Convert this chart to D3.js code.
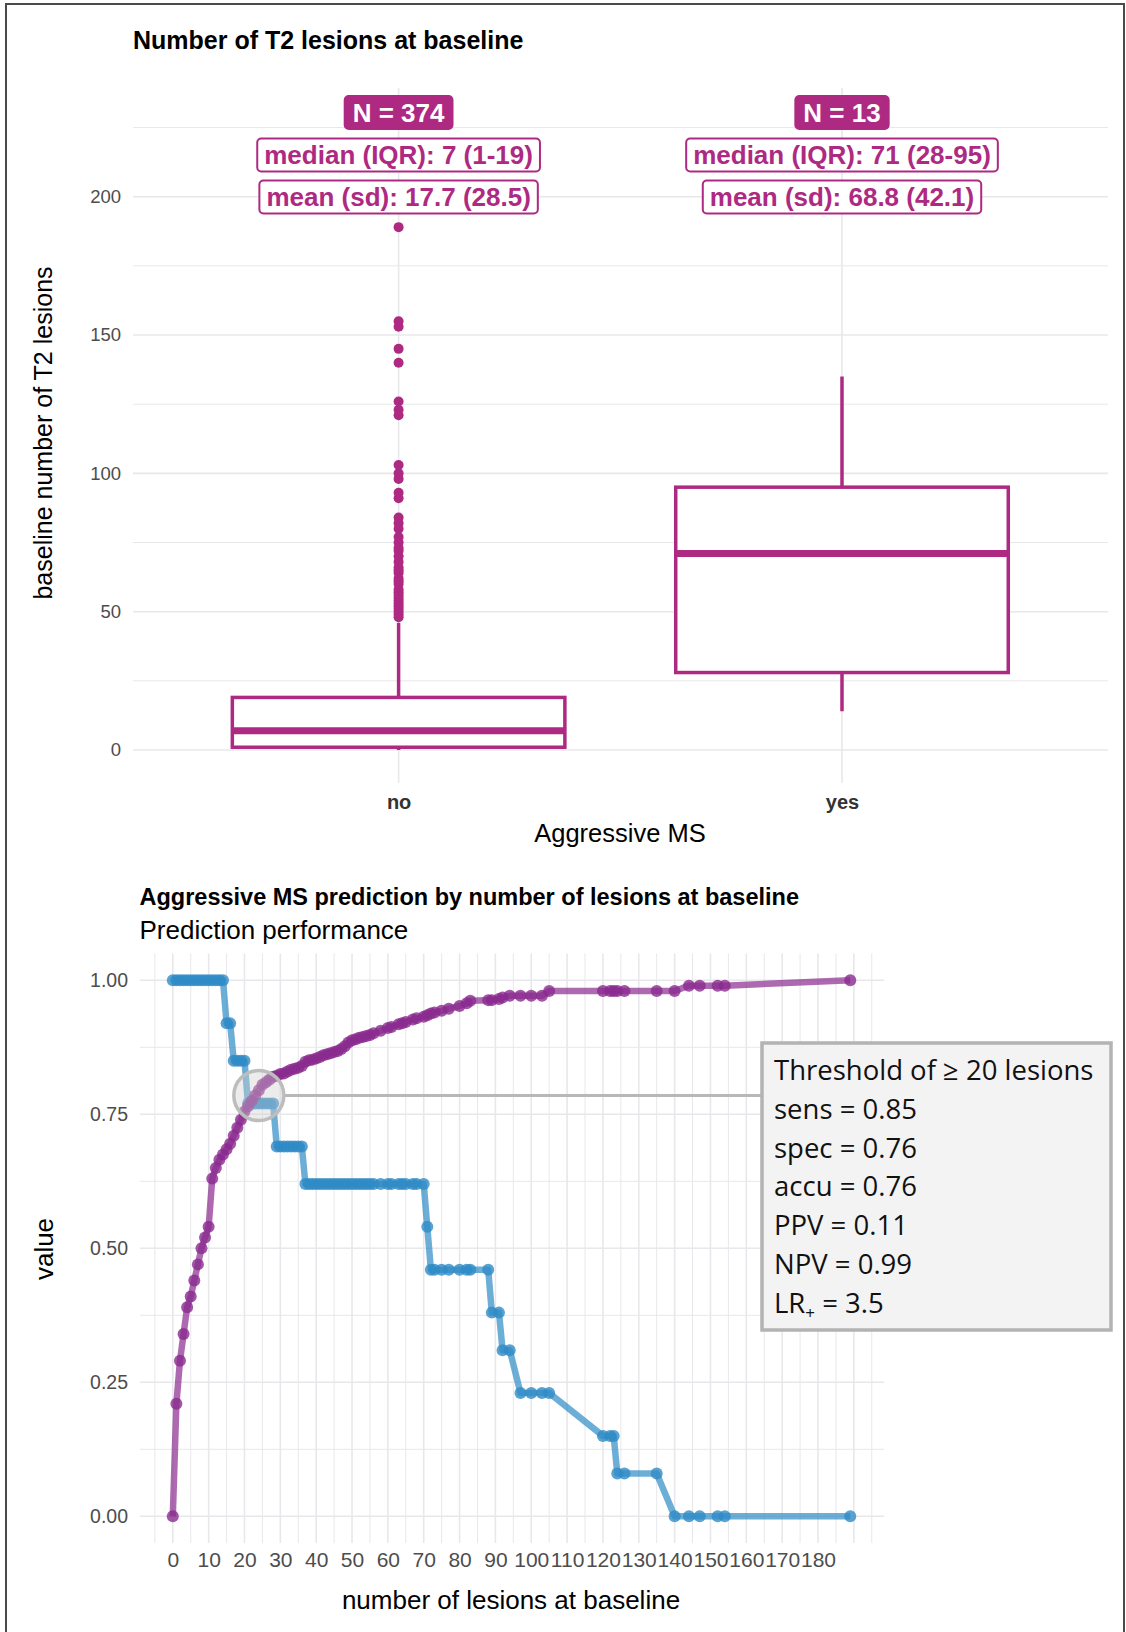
<!DOCTYPE html>
<html><head><meta charset="utf-8">
<script src="https://cdn.jsdelivr.net/npm/d3@7"></script>
<style>body{margin:0;background:#fff;} svg{display:block;}</style>
</head><body>
<svg id="chart" width="1126" height="1632"></svg>
<script>
// ---------- data: top boxplot ----------
const groups = ["no", "yes"];
const groupN = [374, 13];
const whiskerLow = [0, 14];
const boxQ1 = [1, 28];
const boxMedian = [7, 71];
const boxQ3 = [19, 95];
const whiskerHigh = [46, 135];
const outliersNo = [48, 49, 50, 51, 52, 53, 54, 55, 56, 57, 58, 60, 61, 62, 64, 65, 66, 68, 70, 72, 73, 75, 77, 80, 82, 84, 91, 93, 98, 100, 103, 121, 123, 126, 140, 145, 153, 155, 189];
const outliersYes = [];
const medianLabels = ["median (IQR): 7 (1-19)", "median (IQR): 71 (28-95)"];
const meanLabels = ["mean (sd): 17.7 (28.5)", "mean (sd): 68.8 (42.1)"];
const topYTicks = [0, 50, 100, 150, 200];
const topYMinor = [25, 75, 125, 175, 225];

// ---------- data: bottom prediction curves ----------
const thresholds = [0,1,2,3,4,5,6,7,8,9,10,11,12,13,14,15,16,17,18,19,20,21,22,23,24,25,26,27,28,29,30,31,32,33,34,35,36,37,38,39,40,41,42,43,44,45,46,47,48,49,50,51,52,53,54,55,56,58,60,61,63,64,65,67,68,70,71,72,73,75,77,80,82,83,88,89,91,92,94,97,100,103,105,120,122,123,124,126,135,140,144,147,152,154,189];
const sensitivity = [1,1,1,1,1,1,1,1,1,1,1,1,1,1,1,0.92,0.92,0.85,0.85,0.85,0.85,0.77,0.77,0.77,0.77,0.77,0.77,0.77,0.77,0.69,0.69,0.69,0.69,0.69,0.69,0.69,0.69,0.62,0.62,0.62,0.62,0.62,0.62,0.62,0.62,0.62,0.62,0.62,0.62,0.62,0.62,0.62,0.62,0.62,0.62,0.62,0.62,0.62,0.62,0.62,0.62,0.62,0.62,0.62,0.62,0.62,0.54,0.46,0.46,0.46,0.46,0.46,0.46,0.46,0.46,0.38,0.38,0.31,0.31,0.23,0.23,0.23,0.23,0.15,0.15,0.15,0.08,0.08,0.08,0,0,0,0,0,0];
const specificity = [0,0.21,0.29,0.34,0.39,0.41,0.44,0.47,0.50,0.52,0.54,0.63,0.65,0.665,0.675,0.685,0.695,0.71,0.725,0.74,0.755,0.765,0.775,0.785,0.795,0.805,0.81,0.815,0.82,0.822,0.825,0.826,0.83,0.833,0.835,0.837,0.84,0.848,0.851,0.852,0.854,0.857,0.86,0.862,0.864,0.866,0.868,0.872,0.877,0.884,0.888,0.89,0.893,0.894,0.896,0.898,0.901,0.906,0.911,0.913,0.918,0.92,0.922,0.927,0.929,0.932,0.935,0.938,0.94,0.943,0.947,0.952,0.957,0.962,0.963,0.963,0.965,0.968,0.971,0.971,0.971,0.971,0.98,0.98,0.98,0.98,0.98,0.98,0.98,0.98,0.99,0.99,0.99,0.99,1.0];
const bottomXTicks = [0,10,20,30,40,50,60,70,80,90,100,110,120,130,140,150,160,170,180];
const bottomXGrid = [-5,0,5,10,15,20,25,30,35,40,45,50,55,60,65,70,75,80,85,90,95,100,105,110,115,120,125,130,135,140,145,150,155,160,165,170,175,180,185,190,195];
const bottomYTicks = [0, 0.25, 0.5, 0.75, 1.0];
const bottomYMinor = [0.125, 0.375, 0.625, 0.875];
const annotLines = ["Threshold of \u2265 20 lesions", "sens = 0.85", "spec = 0.76", "accu = 0.76", "PPV = 0.11", "NPV = 0.99"];
const annotPoint = [24, 0.785];

// ---------- styles ----------
const MAG = "#ae2a82";
const BLUE = "#2f8bc6";
const PURP = "#8a2b8f";
const GRID = "#e8e8ec";
const SANS = "'Liberation Sans', Arial, Helvetica, sans-serif";
const ANN = "'Open Sans', 'Noto Sans', sans-serif";

const svg = d3.select("#chart");
svg.append("rect").attr("x",0).attr("y",0).attr("width",1126).attr("height",1632).attr("fill","#fff");
// outer frame
svg.append("path").attr("d","M6,1640 L6,4 L1124,4 L1124,1640").attr("fill","none").attr("stroke","#4a4a4a").attr("stroke-width",2);

// ================= TOP CHART =================
const tp = {l:133, r:1108, t:88, b:783};
const yTop = d3.scaleLinear().domain([0,200]).range([750,196.7]);
const xTop = d3.scalePoint().domain(groups).range([398.6, 842]);
const step = 443.4;
const boxW = 0.75*step;
const gTop = svg.append("g");

gTop.selectAll("line.minor").data(topYMinor).join("line")
  .attr("x1",tp.l).attr("x2",tp.r).attr("y1",d=>yTop(d)).attr("y2",d=>yTop(d))
  .attr("stroke",GRID).attr("stroke-width",1);
gTop.selectAll("line.major").data(topYTicks).join("line")
  .attr("x1",tp.l).attr("x2",tp.r).attr("y1",d=>yTop(d)).attr("y2",d=>yTop(d))
  .attr("stroke",GRID).attr("stroke-width",1.6);
gTop.selectAll("line.vmaj").data(groups).join("line")
  .attr("x1",d=>xTop(d)).attr("x2",d=>xTop(d)).attr("y1",tp.t).attr("y2",tp.b)
  .attr("stroke",GRID).attr("stroke-width",1.6);

// y axis
const yAxTop = gTop.append("g").attr("transform",`translate(${tp.l},0)`)
  .call(d3.axisLeft(yTop).tickValues(topYTicks).tickSize(0).tickPadding(12));
yAxTop.select(".domain").remove();
yAxTop.selectAll("text").attr("font-family",SANS).attr("font-size",18.5).attr("fill","#4d4d4d");

// x axis
const xAxTop = gTop.append("g").attr("transform",`translate(0,${tp.b})`)
  .call(d3.axisBottom(xTop).tickSize(0).tickPadding(12));
xAxTop.select(".domain").remove();
xAxTop.selectAll("text").attr("font-family",SANS).attr("font-size",20).attr("font-weight","bold").attr("fill","#333");

// boxes
groups.forEach((g,i)=>{
  const cx = xTop(g);
  gTop.append("line").attr("x1",cx).attr("x2",cx).attr("y1",yTop(boxQ3[i])).attr("y2",yTop(whiskerHigh[i]))
    .attr("stroke",MAG).attr("stroke-width",3.5);
  gTop.append("line").attr("x1",cx).attr("x2",cx).attr("y1",yTop(boxQ1[i])).attr("y2",yTop(whiskerLow[i]))
    .attr("stroke",MAG).attr("stroke-width",3.5);
  gTop.append("rect").attr("x",cx-boxW/2).attr("width",boxW)
    .attr("y",yTop(boxQ3[i])).attr("height",yTop(boxQ1[i])-yTop(boxQ3[i]))
    .attr("fill","#fff").attr("stroke",MAG).attr("stroke-width",3.5);
  gTop.append("line").attr("x1",cx-boxW/2).attr("x2",cx+boxW/2).attr("y1",yTop(boxMedian[i])).attr("y2",yTop(boxMedian[i]))
    .attr("stroke",MAG).attr("stroke-width",7);
  const outs = i===0 ? outliersNo : outliersYes;
  gTop.selectAll(null).data(outs).join("circle")
    .attr("cx",cx).attr("cy",d=>yTop(d)).attr("r",5).attr("fill",MAG);

  // labels
  const lbls = [
    {t:"N = "+groupN[i], cy:112.5, fill:MAG, col:"#fff", pad:8},
    {t:medianLabels[i], cy:155, fill:"#fff", col:MAG, pad:7},
    {t:meanLabels[i], cy:197, fill:"#fff", col:MAG, pad:7}
  ];
  lbls.forEach(L=>{
    const gl = gTop.append("g");
    const rect = gl.append("rect");
    const txt = gl.append("text").attr("x",cx).attr("y",L.cy+9).attr("text-anchor","middle")
      .attr("font-family",SANS).attr("font-weight","bold").attr("font-size",26).attr("fill",L.col).text(L.t);
    const w = txt.node().getComputedTextLength();
    rect.attr("x",cx-w/2-L.pad).attr("width",w+2*L.pad).attr("y",L.cy-16.5).attr("height",33)
      .attr("rx",4).attr("fill",L.fill).attr("stroke",MAG).attr("stroke-width",2);
  });
});

svg.append("text").attr("x",133).attr("y",49).attr("font-family",SANS).attr("font-weight","bold")
  .attr("font-size",25).attr("fill","#000").text("Number of T2 lesions at baseline");
svg.append("text").attr("transform","translate(52,433) rotate(-90)").attr("text-anchor","middle")
  .attr("font-family",SANS).attr("font-size",25).attr("fill","#000").text("baseline number of T2 lesions");
svg.append("text").attr("x",620).attr("y",842).attr("text-anchor","middle")
  .attr("font-family",SANS).attr("font-size",25.5).attr("fill","#000").text("Aggressive MS");

// ================= BOTTOM CHART =================
const bp = {l:140, r:884, t:953.5, b:1543};
const xB = d3.scaleLinear().domain([0,180]).range([172.8, 818]);
const yB = d3.scaleLinear().domain([0,1]).range([1516.3, 980.3]);
const gB = svg.append("g");

gB.selectAll("line.vg").data(bottomXGrid).join("line")
  .attr("x1",d=>xB(d)).attr("x2",d=>xB(d)).attr("y1",bp.t).attr("y2",bp.b)
  .attr("stroke",GRID).attr("stroke-width",d=>d%10===0?1.6:1);
gB.selectAll("line.hm").data(bottomYMinor).join("line")
  .attr("x1",bp.l).attr("x2",bp.r).attr("y1",d=>yB(d)).attr("y2",d=>yB(d))
  .attr("stroke",GRID).attr("stroke-width",1);
gB.selectAll("line.hM").data(bottomYTicks).join("line")
  .attr("x1",bp.l).attr("x2",bp.r).attr("y1",d=>yB(d)).attr("y2",d=>yB(d))
  .attr("stroke",GRID).attr("stroke-width",1.6);

const yAxB = gB.append("g").attr("transform",`translate(${bp.l},0)`)
  .call(d3.axisLeft(yB).tickValues(bottomYTicks).tickFormat(d3.format(".2f")).tickSize(0).tickPadding(12));
yAxB.select(".domain").remove();
yAxB.selectAll("text").attr("font-family",SANS).attr("font-size",19.5).attr("fill","#4d4d4d");

const xAxB = gB.append("g").attr("transform",`translate(0,${bp.b})`)
  .call(d3.axisBottom(xB).tickValues(bottomXTicks).tickFormat(d3.format("d")).tickSize(0).tickPadding(9));
xAxB.select(".domain").remove();
xAxB.selectAll("text").attr("font-family",SANS).attr("font-size",21).attr("fill","#4d4d4d");

const rows = thresholds.map((t,i)=>({t, sens:sensitivity[i], spec:specificity[i]}));
const lineSens = d3.line().x(d=>xB(d.t)).y(d=>yB(d.sens));
const lineSpec = d3.line().x(d=>xB(d.t)).y(d=>yB(d.spec));

gB.append("path").datum(rows).attr("d",lineSens).attr("fill","none")
  .attr("stroke",BLUE).attr("stroke-width",6.5).attr("stroke-opacity",0.7).attr("stroke-linejoin","round");
gB.selectAll("circle.s").data(rows).join("circle").attr("class","s")
  .attr("cx",d=>xB(d.t)).attr("cy",d=>yB(d.sens)).attr("r",6).attr("fill",BLUE).attr("fill-opacity",0.8);
gB.append("path").datum(rows).attr("d",lineSpec).attr("fill","none")
  .attr("stroke",PURP).attr("stroke-width",6.5).attr("stroke-opacity",0.7).attr("stroke-linejoin","round");
gB.selectAll("circle.p").data(rows).join("circle").attr("class","p")
  .attr("cx",d=>xB(d.t)).attr("cy",d=>yB(d.spec)).attr("r",6).attr("fill",PURP).attr("fill-opacity",0.8);

// annotation
const ax = xB(annotPoint[0]), ay = yB(annotPoint[1]);
const box = {x:762, y:1043, w:349, h:287};
gB.append("line").attr("x1",ax+25).attr("x2",box.x).attr("y1",ay).attr("y2",ay)
  .attr("stroke","#b8b8b8").attr("stroke-width",3);
gB.append("circle").attr("cx",ax).attr("cy",ay).attr("r",25)
  .attr("fill","#cfcfcf").attr("fill-opacity",0.4).attr("stroke","#bdbdbd").attr("stroke-width",3.5);
gB.append("rect").attr("x",box.x).attr("y",box.y).attr("width",box.w).attr("height",box.h)
  .attr("fill","#f3f3f3").attr("stroke","#b3b3b3").attr("stroke-width",3.5);
annotLines.forEach((s,i)=>{
  gB.append("text").attr("x",774).attr("y",1080+i*38.8).attr("font-family",ANN).attr("font-size",27.5)
    .attr("fill","#111").text(s);
});
const lr = gB.append("text").attr("x",774).attr("y",1080+6*38.8).attr("font-family",ANN).attr("font-size",27.5).attr("fill","#111");
lr.append("tspan").text("LR");
lr.append("tspan").attr("font-size",17).attr("dy",6).text("+");
lr.append("tspan").attr("dy",-6).text(" = 3.5");

svg.append("text").attr("x",139.5).attr("y",905).attr("font-family",SANS).attr("font-weight","bold")
  .attr("font-size",23.5).attr("fill","#000").text("Aggressive MS prediction by number of lesions at baseline");
svg.append("text").attr("x",139.5).attr("y",939).attr("font-family",SANS)
  .attr("font-size",26).attr("fill","#000").text("Prediction performance");
svg.append("text").attr("transform","translate(53,1249) rotate(-90)").attr("text-anchor","middle")
  .attr("font-family",SANS).attr("font-size",26).attr("fill","#000").text("value");
svg.append("text").attr("x",511).attr("y",1609).attr("text-anchor","middle")
  .attr("font-family",SANS).attr("font-size",26).attr("fill","#000").text("number of lesions at baseline");
</script></body></html>
